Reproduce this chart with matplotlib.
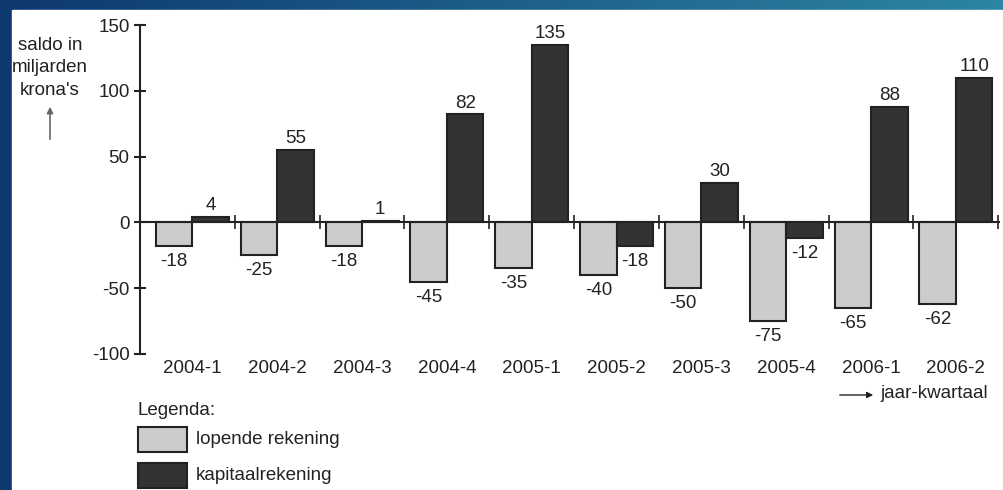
import numpy as np
import matplotlib.pyplot as plt
from matplotlib.patches import Rectangle

# gegevens: saldo in miljarden krona's per kwartaal
KWARTALEN = ["2004-1", "2004-2", "2004-3", "2004-4", "2005-1",
             "2005-2", "2005-3", "2005-4", "2006-1", "2006-2"]
LOPENDE = [-18, -25, -18, -45, -35, -40, -50, -75, -65, -62]
KAPITAAL = [4, 55, 1, 82, 135, -18, 30, -12, 88, 110]
Y_TICKS = [-100, -50, 0, 50, 100, 150]

LICHT = "#cccccc"
DONKER = "#333333"
RAND = "#222222"
TEKST = "#222222"

plt.rcParams["font.family"] = ["Liberation Sans", "DejaVu Sans"]
plt.rcParams["font.size"] = 13.5
plt.rcParams["axes.unicode_minus"] = False

W, H = 1004, 490
fig = plt.figure(figsize=(W / 100, H / 100), dpi=100)

# achtergrond: blauw kader van de dia
bg = fig.add_axes([0, 0, 1, 1])
gx = np.linspace(0, 1, 200)
gy = np.linspace(0, 1, 100)
GX, GY = np.meshgrid(gx, gy)
c0 = np.array([14, 56, 112]) / 255
c1 = np.array([48, 142, 168]) / 255
t = np.clip(GX * 0.9 - GY * 0.1, 0, 1)[..., None]
bg.imshow(c0 + (c1 - c0) * t, extent=[0, 1, 0, 1], aspect="auto", origin="upper")
bg.add_patch(Rectangle((12 / W, 0), 1, 1 - 10 / H, color="white"))
bg.set_xlim(0, 1)
bg.set_ylim(0, 1)
bg.axis("off")

# grafiek
ax = fig.add_axes([140 / W, (H - 354) / H, 860 / W, (354 - 25) / H])
ax.patch.set_alpha(0)
x = np.arange(len(KWARTALEN))
b = 0.43
ax.bar(x - b / 2, LOPENDE, width=b, color=LICHT, edgecolor=RAND, linewidth=1.5, zorder=2)
ax.bar(x + b / 2, KAPITAAL, width=b, color=DONKER, edgecolor=RAND, linewidth=1.5, zorder=2)

for xs, vals in [(x - b / 2, LOPENDE), (x + b / 2, KAPITAAL)]:
    for xi, v in zip(xs, vals):
        if v >= 0:
            ax.annotate(str(v), (xi, v), xytext=(0, 2), textcoords="offset points",
                        ha="center", va="bottom", color=TEKST)
        else:
            ax.annotate(str(v), (xi, v), xytext=(0, -5), textcoords="offset points",
                        ha="center", va="top", color=TEKST)

# nullijn met scheidingsstreepjes tussen de kwartalen
ax.axhline(0, color=RAND, linewidth=1.5, zorder=3)
ax.plot(x + 0.5, np.zeros(len(x)), ls="none", marker="|", ms=10, mew=1.2, color=RAND, zorder=3)

ax.set_xlim(-0.6176, 9.52)
ax.set_ylim(-100, 150)
ax.set_yticks(Y_TICKS)
ax.set_xticks(x, KWARTALEN)
ax.tick_params(axis="x", length=0, pad=4, colors=TEKST)
ax.tick_params(axis="y", direction="inout", length=9, width=1.5, pad=3, colors=TEKST)
for s in ["top", "right", "bottom"]:
    ax.spines[s].set_visible(False)
ax.spines["left"].set_linewidth(1.5)
ax.spines["left"].set_color(RAND)

# as-titel met pijl omhoog
fig.text(50 / W, 1 - 68 / H, "saldo in\nmiljarden\nkrona's", ha="center", va="center",
         color=TEKST, linespacing=1.4)
fig.add_artist(plt.Annotation("", xy=(50 / W, 1 - 104 / H), xytext=(50 / W, 1 - 142 / H),
                              xycoords="figure fraction",
                              arrowprops=dict(arrowstyle="-|>", color="#666666", lw=1.2,
                                              mutation_scale=9)))

# jaar-kwartaal
fig.add_artist(plt.Annotation("", xy=(876 / W, 1 - 395 / H), xytext=(837 / W, 1 - 395 / H),
                              xycoords="figure fraction",
                              arrowprops=dict(arrowstyle="-|>", color=RAND, lw=1.0,
                                              mutation_scale=9)))
fig.text(880 / W, 1 - 393 / H, "jaar-kwartaal", ha="left", va="center", color=TEKST)

# legenda
fig.text(138 / W, 1 - 410 / H, "Legenda:", ha="left", va="center", color=TEKST)
for i, (kleur, naam) in enumerate([(LICHT, "lopende rekening"), (DONKER, "kapitaalrekening")]):
    top = 427 + i * 36
    fig.add_artist(Rectangle((138 / W, 1 - (top + 25) / H), 49 / W, 25 / H,
                             facecolor=kleur, edgecolor=RAND, linewidth=1.5,
                             transform=fig.transFigure))
    fig.text(196 / W, 1 - (top + 12) / H, naam, ha="left", va="center", color=TEKST)

fig.savefig("out.png", dpi=100)
